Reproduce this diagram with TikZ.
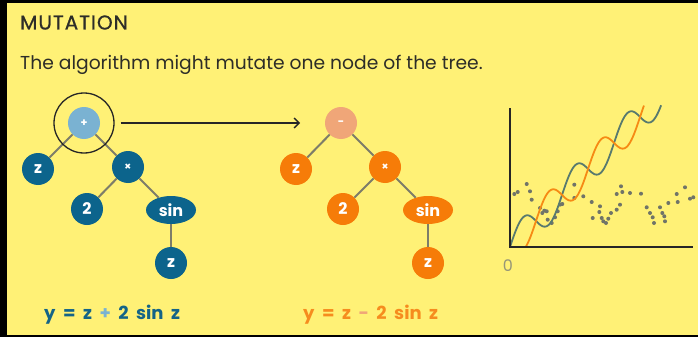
\documentclass[tikz,border=0pt]{standalone}
\usepackage{fontspec}
\setmainfont{Poppins}
\newfontfamily\titlefont[LetterSpace=5, FakeBold=0.9]{Poppins}
\usetikzlibrary{shapes.geometric,arrows.meta}
\definecolor{bgyellow}{RGB}{255,241,118}
\definecolor{treeblue}{RGB}{12,100,140}
\definecolor{rootblue}{RGB}{122,178,210}
\definecolor{treeorange}{RGB}{246,124,8}
\definecolor{rootorange}{RGB}{240,166,120}
\definecolor{edgegray}{RGB}{125,125,105}
\definecolor{curvegreen}{RGB}{88,122,110}
\definecolor{curveorange}{RGB}{246,138,20}
\definecolor{dotgray}{RGB}{112,116,104}
\definecolor{titlegray}{RGB}{45,45,40}
\definecolor{zerogray}{RGB}{150,150,120}
\definecolor{formblue}{RGB}{20,100,135}
\definecolor{formorange}{RGB}{246,140,30}
\newcommand{\fsp}{\hspace{7.5pt}}
\tikzset{
  tnode/.style={circle, minimum size=32pt, inner sep=0pt, text=white,
    font=\fontsize{16}{16}\selectfont\bfseries},
  opnode/.style={tnode, font=\fontsize{11}{11}\selectfont\bfseries},
  sinnode/.style={ellipse, minimum width=50pt, minimum height=28pt, inner sep=0pt,
    text=white, font=\fontsize{16}{16}\selectfont\bfseries},
  bcol/.style={fill=treeblue},
  ocol/.style={fill=treeorange},
  edge/.style={draw=edgegray, line width=2pt},
  curve/.style={line width=1.8pt, smooth, samples=220, variable=\t},
  axis/.style={draw=black!85, line width=1.6pt},
  formula/.style={anchor=base west, inner sep=0pt, font=\fontsize{18}{18}\selectfont\bfseries},
}
\begin{document}
\begin{tikzpicture}[x=1pt,y=-1pt]
\useasboundingbox (0,0) rectangle (698,337);
\fill[black] (0,0) rectangle (698,337);
\fill[bgyellow] (7,3) rectangle (698,335);

% texts
\node[anchor=base west, inner sep=0pt, text=titlegray, font=\fontsize{20}{20}\titlefont] (title) at (20,29.5) {MUTATION};
\node[anchor=base west, inner sep=0pt, text=titlegray, font=\fontsize{18.7}{18.7}\selectfont] (sub) at (20,70) {The algorithm might mutate one node of the tree.};

% tree 1
\node[opnode, fill=rootblue] (r1) at (84,123) {+};
\node[tnode, bcol] (z1) at (38,169) {z};
\node[opnode, bcol] (m1) at (128,167) {×};
\node[tnode, bcol] (t1) at (87,209) {2};
\node[sinnode, bcol] (s1) at (171,210) {sin};
\node[tnode, bcol] (zz1) at (171,263) {z};
\draw[edge] (r1) -- (z1);
\draw[edge] (r1) -- (m1);
\draw[edge] (m1) -- (t1);
\draw[edge] (m1) -- (s1);
\draw[edge] (s1) -- (zz1);
\node[circle, draw=black!85, line width=1.3pt, minimum size=60pt, inner sep=0pt] (ring) at (84,123) {};

% tree 2
\node[opnode, fill=rootorange] (r2) at (341,123) {-};
\node[tnode, ocol] (z2) at (296,169) {z};
\node[opnode, ocol] (m2) at (385,167) {×};
\node[tnode, ocol] (t2) at (343,209) {2};
\node[sinnode, ocol] (s2) at (428,210) {sin};
\node[tnode, ocol] (zz2) at (428,263) {z};
\draw[edge] (r2) -- (z2);
\draw[edge] (r2) -- (m2);
\draw[edge] (m2) -- (t2);
\draw[edge] (m2) -- (s2);
\draw[edge] (s2) -- (zz2);

% arrow
\coordinate (aend) at (300,123);
\draw[black!85, line width=1.3pt, -{Straight Barb[length=5pt,width=10pt]}] (ring.east) ++(6,0) -- (aend);

% formulas
\node[formula, text=formblue] (f1) at (44,319) {y\fsp=\fsp z\fsp{\color{rootblue}+}\fsp 2\fsp sin\fsp z};
\node[formula, text=formorange] (f2) at (303,319) {y\fsp=\fsp z\fsp{\color{rootorange}-}\fsp 2\fsp sin\fsp z};

% chart
\coordinate (o) at (510,247);
\coordinate (ytop) at (510,108);
\coordinate (xend) at (693,247);
\foreach \px/\py in {514.3/194, 517.7/192, 526.7/184, 530/191.3, 531.7/199.7, 540/208,
  544.3/210.7, 546.7/211.3, 542.3/213, 547.7/219.7, 551.7/223, 555/217.3, 557.7/211.3,
  560/204.7, 562.3/204, 574.3/184.7, 574.3/198, 583.3/196.3, 591.7/202, 600/206.3,
  599.3/212, 592.7/218, 601.7/218, 603.3/221.3, 606/223, 608.3/218.7, 611/213,
  616.7/209.7, 620/204.7, 616.7/194, 621/186.3, 622.3/192, 630/193, 641/193.7,
  646.7/207.3, 650/213, 652.7/217.3, 654/223, 660/207.3, 662.3/213, 664.3/216.3,
  665/221.3, 668.3/203, 676.7/194, 677.7/202, 685/187.3, 690/198.7, 693.3/197.3}
  \fill[dotgray] (\px,\py) circle (2);
\draw[curve, curvegreen, domain=0:18.25] plot ({510+8.28*\t}, {247-8.28*(\t+2*sin(\t r))});
\draw[curve, curveorange, domain=1.895:16.18] plot ({510+8.28*\t}, {247-8.28*(\t-2*sin(\t r))});
\draw[axis] (ytop) -- (o) -- (xend);
\node[anchor=center, inner sep=0pt, text=zerogray, font=\fontsize{16}{16}\selectfont] (zero) at (508,266) {0};
\end{tikzpicture}
\end{document}
